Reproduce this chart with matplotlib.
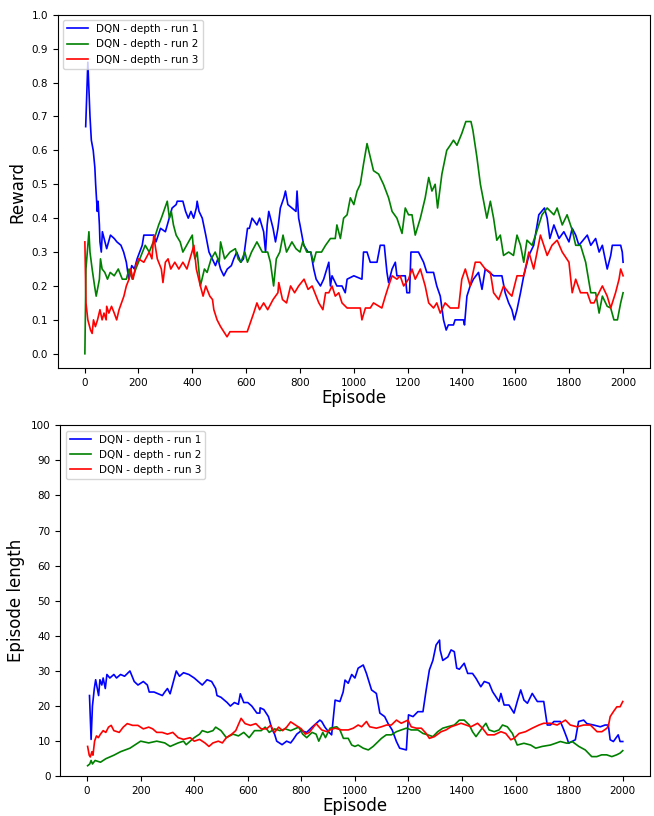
import numpy as np
import matplotlib
matplotlib.use('Agg')
import matplotlib.pyplot as plt

labels = ['DQN - depth - run 1', 'DQN - depth - run 2', 'DQN - depth - run 3']
colors = ['b', 'g', 'r']

# reward curves (episode, value)
rew1_x = [4, 12, 20, 25, 32, 38, 41, 47, 50, 55, 57, 62, 66, 82, 96, 110, 120, 135, 145, 155, 164, 175, 185, 195,
          214, 220, 257, 265, 282, 300, 325, 340, 344, 365, 375, 385, 395, 405, 415, 418, 425, 437, 450, 462, 486,
          495, 505, 517, 530, 545, 554, 565, 580, 590, 605, 612, 622, 640, 650, 665, 672, 678, 684, 700, 709, 718,
          727, 740, 746, 755, 770, 785, 789, 795, 800, 814, 830, 840, 851, 860, 876, 888, 907, 913, 919, 937, 956,
          968, 975, 1000, 1030, 1036, 1049, 1061, 1086, 1098, 1113, 1123, 1129, 1142, 1154, 1160, 1191, 1197, 1207,
          1212, 1240, 1259, 1271, 1296, 1308, 1321, 1333, 1343, 1351, 1370, 1376, 1407, 1411, 1420, 1432, 1444,
          1463, 1476, 1488, 1519, 1550, 1562, 1575, 1587, 1596, 1606, 1619, 1631, 1650, 1668, 1687, 1708, 1718,
          1728, 1743, 1762, 1780, 1799, 1811, 1824, 1836, 1867, 1880, 1898, 1911, 1923, 1941, 1954, 1960, 1991,
          1997, 2000]
rew1_y = [0.67, 0.86, 0.70, 0.63, 0.60, 0.55, 0.50, 0.42, 0.45, 0.38, 0.33, 0.30, 0.36, 0.31, 0.35, 0.34, 0.33,
          0.32, 0.30, 0.27, 0.22, 0.26, 0.25, 0.28, 0.32, 0.35, 0.35, 0.33, 0.37, 0.36, 0.43, 0.44, 0.45, 0.45,
          0.42, 0.40, 0.42, 0.40, 0.43, 0.45, 0.42, 0.40, 0.35, 0.30, 0.26, 0.28, 0.25, 0.23, 0.25, 0.26, 0.28,
          0.30, 0.27, 0.28, 0.37, 0.37, 0.40, 0.38, 0.40, 0.36, 0.30, 0.38, 0.42, 0.37, 0.33, 0.37, 0.43, 0.46,
          0.48, 0.44, 0.43, 0.42, 0.48, 0.40, 0.38, 0.32, 0.30, 0.30, 0.25, 0.22, 0.20, 0.22, 0.27, 0.20, 0.23,
          0.20, 0.20, 0.18, 0.22, 0.23, 0.22, 0.30, 0.30, 0.27, 0.27, 0.32, 0.32, 0.24, 0.21, 0.25, 0.27, 0.23,
          0.23, 0.18, 0.18, 0.30, 0.30, 0.27, 0.24, 0.24, 0.20, 0.17, 0.10, 0.07, 0.085, 0.085, 0.10, 0.10, 0.085,
          0.17, 0.20, 0.22, 0.24, 0.19, 0.25, 0.23, 0.23, 0.18, 0.15, 0.13, 0.10, 0.13, 0.18, 0.23, 0.29, 0.32,
          0.41, 0.43, 0.40, 0.34, 0.38, 0.34, 0.36, 0.33, 0.37, 0.35, 0.32, 0.35, 0.32, 0.34, 0.30, 0.32, 0.25,
          0.29, 0.32, 0.32, 0.30, 0.27]

rew2_x = [1, 5, 16, 20, 28, 37, 43, 50, 55, 59, 65, 75, 85, 95, 110, 125, 140, 155, 165, 177, 190, 205, 215, 225,
          240, 255, 263, 275, 285, 307, 315, 322, 330, 340, 355, 365, 400, 405, 410, 418, 430, 445, 455, 470, 485,
          500, 505, 520, 540, 560, 570, 580, 595, 605, 620, 640, 660, 680, 690, 702, 712, 725, 737, 750, 770, 785,
          800, 810, 825, 840, 850, 860, 880, 895, 913, 931, 937, 950, 962, 975, 987, 1000, 1012, 1024, 1036,
          1049, 1061, 1073, 1092, 1110, 1129, 1142, 1160, 1179, 1191, 1203, 1216, 1228, 1247, 1265, 1278, 1290,
          1302, 1311, 1327, 1345, 1358, 1370, 1383, 1401, 1416, 1435, 1442, 1457, 1470, 1482, 1494, 1507, 1519,
          1531, 1544, 1556, 1575, 1593, 1606, 1619, 1631, 1643, 1662, 1681, 1699, 1718, 1743, 1755, 1774, 1792,
          1811, 1824, 1842, 1861, 1880, 1898, 1911, 1923, 1941, 1954, 1966, 1979, 1991, 2000]
rew2_y = [0.0, 0.25, 0.36, 0.30, 0.25, 0.20, 0.17, 0.20, 0.22, 0.28, 0.25, 0.24, 0.22, 0.24, 0.23, 0.25, 0.22,
          0.22, 0.25, 0.22, 0.25, 0.28, 0.30, 0.32, 0.30, 0.33, 0.35, 0.38, 0.40, 0.45, 0.40, 0.42, 0.38, 0.35,
          0.33, 0.30, 0.35, 0.30, 0.28, 0.30, 0.20, 0.25, 0.24, 0.28, 0.30, 0.27, 0.33, 0.28, 0.30, 0.31, 0.28,
          0.27, 0.30, 0.27, 0.30, 0.33, 0.30, 0.30, 0.27, 0.20, 0.28, 0.30, 0.35, 0.30, 0.33, 0.31, 0.30, 0.33,
          0.30, 0.30, 0.27, 0.30, 0.30, 0.32, 0.34, 0.34, 0.38, 0.34, 0.40, 0.41, 0.46, 0.44, 0.48, 0.50, 0.56,
          0.62, 0.58, 0.54, 0.53, 0.50, 0.46, 0.42, 0.40, 0.355, 0.43, 0.41, 0.41, 0.35, 0.40, 0.46, 0.52, 0.48,
          0.50, 0.43, 0.53, 0.60, 0.615, 0.63, 0.615, 0.65, 0.685, 0.685, 0.66, 0.58, 0.50, 0.45, 0.40, 0.45,
          0.40, 0.335, 0.35, 0.29, 0.30, 0.29, 0.35, 0.32, 0.27, 0.335, 0.32, 0.365, 0.41, 0.43, 0.41, 0.43, 0.38,
          0.41, 0.365, 0.32, 0.32, 0.27, 0.18, 0.18, 0.12, 0.17, 0.14, 0.135, 0.10, 0.10, 0.15, 0.18]

rew3_x = [1, 5, 12, 22, 28, 33, 40, 48, 57, 65, 72, 80, 82, 90, 100, 110, 119, 128, 146, 155, 165, 171, 180, 190,
          200, 220, 240, 250, 257, 262, 270, 285, 291, 300, 310, 320, 335, 350, 365, 380, 406, 415, 430, 440, 450,
          465, 475, 480, 492, 505, 517, 529, 540, 604, 615, 628, 640, 650, 665, 680, 700, 718, 721, 735, 750, 765,
          780, 795, 815, 830, 845, 860, 870, 885, 895, 907, 919, 931, 944, 956, 975, 1000, 1024, 1030, 1043,
          1061, 1073, 1104, 1117, 1129, 1142, 1160, 1172, 1185, 1203, 1216, 1228, 1247, 1265, 1278, 1296, 1308,
          1321, 1339, 1358, 1389, 1401, 1414, 1432, 1451, 1469, 1488, 1507, 1519, 1538, 1556, 1575, 1587, 1606,
          1631, 1650, 1668, 1693, 1718, 1736, 1755, 1774, 1799, 1811, 1824, 1842, 1867, 1880, 1892, 1904, 1923,
          1941, 1954, 1972, 1985, 1991, 2000]
rew3_y = [0.33, 0.15, 0.10, 0.07, 0.06, 0.10, 0.08, 0.10, 0.13, 0.10, 0.12, 0.10, 0.14, 0.12, 0.14, 0.12, 0.10,
          0.13, 0.17, 0.20, 0.22, 0.25, 0.22, 0.26, 0.28, 0.27, 0.30, 0.28, 0.35, 0.32, 0.28, 0.25, 0.21, 0.27,
          0.28, 0.25, 0.27, 0.25, 0.27, 0.25, 0.32, 0.25, 0.20, 0.17, 0.20, 0.17, 0.16, 0.13, 0.10, 0.08, 0.065,
          0.05, 0.065, 0.065, 0.09, 0.12, 0.15, 0.13, 0.15, 0.13, 0.16, 0.18, 0.21, 0.16, 0.15, 0.20, 0.18, 0.20,
          0.22, 0.19, 0.20, 0.17, 0.15, 0.13, 0.18, 0.18, 0.20, 0.17, 0.18, 0.15, 0.135, 0.135, 0.135, 0.10,
          0.135, 0.135, 0.15, 0.135, 0.17, 0.20, 0.23, 0.22, 0.23, 0.20, 0.22, 0.25, 0.22, 0.25, 0.20, 0.15, 0.135,
          0.15, 0.12, 0.15, 0.135, 0.135, 0.22, 0.25, 0.20, 0.27, 0.27, 0.25, 0.24, 0.18, 0.16, 0.20, 0.18, 0.17,
          0.23, 0.23, 0.30, 0.25, 0.35, 0.29, 0.32, 0.335, 0.30, 0.27, 0.18, 0.22, 0.18, 0.18, 0.15, 0.15, 0.17,
          0.20, 0.17, 0.135, 0.18, 0.22, 0.25, 0.23]

# episode length curves
len1_x = [9, 15, 20, 27, 32, 43, 48, 55, 60, 68, 74, 85, 100, 110, 125, 140, 160, 176, 190, 210, 225, 232, 250,
          281, 290, 300, 310, 333, 345, 360, 380, 400, 415, 430, 448, 465, 480, 485, 500, 523, 535, 550, 565, 572,
          585, 600, 615, 634, 645, 646, 660, 677, 690, 700, 708, 728, 745, 760, 770, 783, 800, 820, 840, 869, 876,
          888, 901, 913, 926, 944, 956, 963, 975, 988, 1000, 1012, 1031, 1043, 1062, 1080, 1093, 1111, 1124, 1139,
          1155, 1167, 1192, 1200, 1217, 1235, 1254, 1266, 1278, 1291, 1303, 1316, 1318, 1328, 1347, 1359, 1371,
          1380, 1390, 1408, 1421, 1439, 1452, 1470, 1483, 1501, 1514, 1526, 1538, 1545, 1557, 1575, 1594, 1606,
          1619, 1631, 1644, 1662, 1681, 1705, 1718, 1730, 1743, 1767, 1780, 1792, 1798, 1823, 1835, 1854, 1866,
          1891, 1916, 1934, 1946, 1953, 1965, 1983, 1990, 2000]
len1_y = [23, 10.5, 20, 25, 27.5, 23, 27.5, 26, 28, 25, 29, 28, 29, 28, 29, 28.5, 30, 27, 26, 27, 26, 24, 24, 23,
          24, 25, 23.5, 30, 28.5, 29.5, 29, 28, 27, 26, 27.5, 27, 25, 23, 22.5, 21, 20, 21, 20.5, 23.5, 21, 21, 20,
          18, 18, 19.5, 19, 17, 13.5, 12, 10, 9, 10, 9.5, 10.5, 12, 13, 12.5, 14, 16, 15.6, 14, 12.7, 11.8, 21.7,
          21.3, 24, 27.4, 26.5, 29, 28, 30.8, 31.7, 29.3, 24.6, 23.6, 18, 17, 15, 13.2, 9.9, 8, 7.5, 17.5, 17,
          18.4, 18.4, 24.6, 30.3, 33, 37.4, 38.8, 36, 33, 34, 36, 35.5, 30.8, 30.5, 32.2, 29.3, 29.3, 27.9, 25.5,
          27, 26.5, 24.1, 22.7, 21.3, 23.6, 20.3, 20.3, 18, 21.3, 24.6, 21.7, 20.8, 23.6, 21.3, 21.3, 14.6, 14.6,
          15.6, 15.6, 13.2, 10.8, 9.4, 10.4, 15.6, 16, 15, 14.6, 14.1, 14.6, 14.6, 10.4, 9.9, 11.8, 9.9, 9.9]

len2_x = [2, 10, 15, 20, 30, 50, 70, 100, 125, 160, 180, 200, 230, 260, 290, 310, 340, 360, 370, 400, 420, 430,
          450, 470, 480, 500, 520, 545, 565, 585, 605, 625, 650, 665, 680, 700, 720, 740, 760, 790, 805, 820, 840,
          855, 865, 880, 890, 907, 932, 944, 957, 975, 988, 1000, 1012, 1031, 1050, 1068, 1087, 1099, 1117, 1136,
          1155, 1173, 1192, 1210, 1235, 1254, 1272, 1291, 1309, 1328, 1346, 1371, 1390, 1408, 1427, 1439, 1452,
          1470, 1489, 1501, 1520, 1538, 1551, 1569, 1588, 1606, 1631, 1656, 1675, 1699, 1730, 1749, 1767, 1792,
          1811, 1836, 1860, 1884, 1903, 1921, 1940, 1959, 1977, 1990, 2000]
len2_y = [3, 3.5, 4.5, 3.5, 4.5, 4, 5, 6, 7, 8, 9, 10, 9.5, 10, 9.5, 8.5, 9.5, 10, 9, 11, 12, 13, 12.5, 13, 14, 13,
          11, 12, 11.5, 12.5, 11, 13, 13, 14, 12.5, 13.5, 13, 13.5, 13, 14, 12, 11, 12.5, 12, 10, 12.5, 11, 13.7,
          14.1, 13.2, 10.8, 10.8, 8.9, 8.5, 8.9, 8, 7.5, 8.5, 9.9, 10.8, 11.8, 11.8, 12.7, 13.2, 13.7, 13.2, 13.2,
          12.2, 11.8, 11.3, 12.7, 13.7, 14.1, 14.6, 16, 16, 14.6, 12.7, 11.3, 13.2, 15.1, 13.2, 12.7, 13.2, 14.6,
          14.1, 12.2, 8.9, 9.4, 8.9, 8, 8.5, 8.9, 9.4, 9.9, 9.4, 9.9, 8.5, 7.5, 5.6, 5.6, 6.1, 6.1, 5.6, 6.1, 6.6,
          7.3]

len3_x = [2, 8, 12, 18, 22, 28, 35, 42, 50, 60, 70, 80, 90, 100, 120, 135, 150, 170, 190, 210, 230, 245, 260, 280,
          300, 320, 340, 360, 385, 400, 420, 440, 455, 470, 490, 505, 520, 540, 555, 575, 590, 610, 630, 650, 670,
          685, 700, 715, 730, 745, 760, 780, 800, 815, 830, 855, 876, 895, 907, 926, 950, 975, 994, 1012, 1025,
          1043, 1055, 1080, 1099, 1118, 1136, 1155, 1173, 1198, 1210, 1229, 1248, 1266, 1278, 1297, 1322, 1340,
          1359, 1378, 1396, 1415, 1433, 1458, 1476, 1495, 1520, 1545, 1563, 1582, 1594, 1613, 1637, 1662, 1687,
          1705, 1730, 1755, 1786, 1804, 1829, 1854, 1879, 1904, 1922, 1941, 1947, 1953, 1965, 1978, 1990, 2000]
len3_y = [8.5, 6, 5.5, 7, 6, 10, 11.5, 11, 12, 13, 12.5, 14, 14.5, 13, 12.5, 14, 15, 14.5, 14.5, 13.5, 14, 13.5,
          12.5, 12.5, 12, 12.5, 11, 10.5, 11, 10, 10.5, 9.5, 8.5, 9.5, 10, 9.5, 11, 12, 13, 16.5, 15, 14.5, 15,
          13.5, 13.5, 14.5, 12.5, 14, 13, 14, 15.5, 14.5, 13.5, 12, 12.5, 15, 13.2, 12.7, 13.2, 13.7, 13.2, 13.2,
          13.7, 14.6, 14.1, 15.6, 14.1, 13.7, 14.1, 14.6, 14.6, 16, 15.1, 16, 14.1, 13.7, 13.7, 12.2, 10.8, 11.3,
          12.7, 13.2, 14.1, 14.6, 15.1, 14.6, 14.1, 15.1, 13.7, 11.8, 11.8, 12.7, 12.2, 10.4, 10.8, 12.2, 12.7,
          13.7, 14.6, 15.1, 15.1, 14.6, 16, 14.6, 14.1, 14.6, 14.6, 12.7, 12.7, 13.7, 14.6, 17, 18.4, 19.8, 19.8,
          21.3]

fig = plt.figure(figsize=(6.54, 8.16), dpi=100)
ax_r = fig.add_axes([0.0882, 0.5486, 0.9057, 0.4333])
ax_l = fig.add_axes([0.0922, 0.0487, 0.9010, 0.4301])

for x, y, c, lab in zip([rew1_x, rew2_x, rew3_x], [rew1_y, rew2_y, rew3_y], colors, labels):
    ax_r.plot(x, y, color=c, linewidth=1.2, label=lab)
for x, y, c, lab in zip([len1_x, len2_x, len3_x], [len1_y, len2_y, len3_y], colors, labels):
    ax_l.plot(x, y, color=c, linewidth=1.2, label=lab)

ax_r.set_xlim(-100, 2100)
ax_r.set_ylim(-0.043, 1.0)
ax_r.set_yticks(np.arange(0, 1.01, 0.1))
ax_r.set_ylabel('Reward', fontsize=12)

ax_l.set_xlim(-100, 2100)
ax_l.set_ylim(0, 100)
ax_l.set_yticks(np.arange(0, 101, 10))
ax_l.set_ylabel('Episode length', fontsize=12)

for ax in [ax_r, ax_l]:
    ax.set_xticks(np.arange(0, 2001, 200))
    ax.set_xlabel('Episode', fontsize=12, labelpad=1)
    ax.tick_params(labelsize=7.5, length=3.5)
    ax.legend(loc='upper left', fontsize=7.5)

fig.savefig('out.png', dpi=100)
